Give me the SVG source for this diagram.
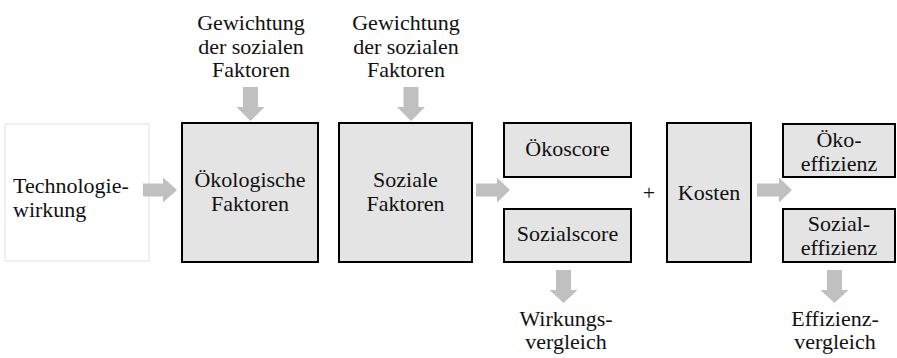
<svg xmlns="http://www.w3.org/2000/svg" width="897" height="358" viewBox="0 0 897 358">
<style>
.bx{fill:#e4e4e4;stroke:#000;stroke-width:2}
.tb{fill:#fff;stroke:#ececec;stroke-width:1.5}
.ar{fill:#c0c0c0}
text{font-size:22px;fill:#111}
.m{text-anchor:middle}
</style>
<rect width="897" height="358" fill="#fff"/>
<g id="n-tech" font-family="serif"><rect class="tb" x="5" y="124" width="144" height="137"/><text x="13" y="193">Technologie-</text><text x="13" y="217">wirkung</text></g>
<g id="n-gew1" font-family="serif"><text class="m" x="251" y="30">Gewichtung</text><text class="m" x="251" y="53.5">der sozialen</text><text class="m" x="251" y="77">Faktoren</text></g>
<g id="n-gew2" font-family="serif"><text class="m" x="406" y="30">Gewichtung</text><text class="m" x="406" y="53.5">der sozialen</text><text class="m" x="406" y="77">Faktoren</text></g>
<g id="n-oek" font-family="serif"><rect class="bx" x="182" y="123" width="136" height="139"/><text class="m" x="250" y="187">Ökologische</text><text class="m" x="250" y="211">Faktoren</text></g>
<g id="n-soz" font-family="serif"><rect class="bx" x="339" y="123" width="133" height="139"/><text class="m" x="405.5" y="187">Soziale</text><text class="m" x="405.5" y="211">Faktoren</text></g>
<g id="n-okoscore" font-family="serif"><rect class="bx" x="504" y="123" width="127" height="54"/><text class="m" x="567.5" y="156">Ökoscore</text></g>
<g id="n-sozscore" font-family="serif"><rect class="bx" x="504" y="209" width="127" height="53"/><text class="m" x="567.5" y="241">Sozialscore</text></g>
<g id="n-plus" font-family="serif"><text class="m" x="649" y="200">+</text></g>
<g id="n-kosten" font-family="serif"><rect class="bx" x="667" y="123" width="84" height="139"/><text class="m" x="709" y="200">Kosten</text></g>
<g id="n-okoeff" font-family="serif"><rect class="bx" x="783" y="124" width="112" height="53"/><text class="m" x="839" y="147">Öko-</text><text class="m" x="839" y="171">effizienz</text></g>
<g id="n-sozeff" font-family="serif"><rect class="bx" x="783" y="209" width="112" height="53"/><text class="m" x="839" y="231">Sozial-</text><text class="m" x="839" y="255">effizienz</text></g>
<g id="n-wirk" font-family="serif"><text class="m" x="566" y="326">Wirkungs-</text><text class="m" x="566" y="349">vergleich</text></g>
<g id="n-eff" font-family="serif"><text class="m" x="835" y="326">Effizienz-</text><text class="m" x="835" y="349">vergleich</text></g>
<g id="connectors">
<polygon class="ar" points="143,183.5 163,183.5 163,177.5 177,190 163,202.5 163,196.5 143,196.5"/>
<polygon class="ar" points="476,183.5 497,183.5 497,177.5 510,190 497,202.5 497,196.5 476,196.5"/>
<polygon class="ar" points="757,183.5 779,183.5 779,177.5 792,190 779,202.5 779,196.5 757,196.5"/>
<polygon class="ar" points="243,87 258,87 258,107 264.5,107 250.5,121 236.5,107 243,107"/>
<polygon class="ar" points="403.5,87 418.5,87 418.5,107 425,107 411,121 397,107 403.5,107"/>
<polygon class="ar" points="556,270 571,270 571,290 577.5,290 563.5,303 549.5,290 556,290"/>
<polygon class="ar" points="827,270 842,270 842,290 848.5,290 834.5,303 820.5,290 827,290"/>
</g>
</svg>
